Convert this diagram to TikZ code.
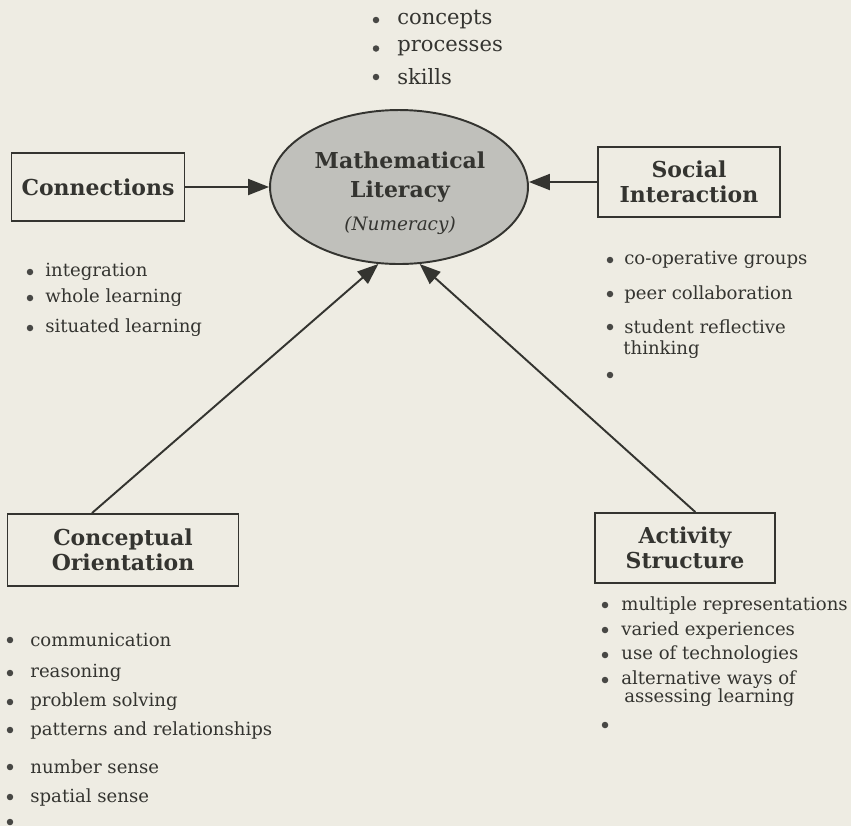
\documentclass[tikz,border=0pt]{standalone}
\usepackage{fontspec}
\setmainfont{DejaVu Serif}
\usepackage{xcolor}
\usetikzlibrary{arrows.meta, shapes.geometric}

\definecolor{paper}{RGB}{238,236,227}
\definecolor{ink}{RGB}{52,52,48}
\definecolor{litfill}{RGB}{192,192,187}

\begin{document}
\begin{tikzpicture}[x=0.02cm, y=-0.02cm,
    box/.style = {draw=ink, line width=1.1pt, align=center, text=ink,
        font=\bfseries\fontsize{12.5}{14}\selectfont},
    item/.style = {anchor=west, inner sep=0pt, text=ink,
        font=\fontsize{10.3}{12}\selectfont},
    topitem/.style = {item, font=\fontsize{12}{14}\selectfont},
    dot/.style = {circle, fill=ink!90, inner sep=0pt, minimum size=0.13cm},
    link/.style = {draw=ink, line width=1.1pt,
        -{Triangle[length=0.42cm, width=0.32cm]}}]

% Page
\fill[paper] (0,0) rectangle (851,826);
\useasboundingbox (0,0) rectangle (851,826);

% Mathematical literacy
\node[ellipse, draw=ink, line width=1.1pt, fill=litfill,
    minimum width=5.16cm, minimum height=3.08cm, inner sep=0pt] (lit) at (399,187) {};
\node[align=center, text=ink, font=\bfseries\fontsize{12.5}{16.5}\selectfont] (littext) at (400,193)
    {Mathematical\\Literacy\\[2pt]{\mdseries\itshape\fontsize{10.5}{14}\selectfont (Numeracy)}};

% The four boxes
\node[box, minimum width=3.46cm, minimum height=1.36cm] (conn) at (98,187) {Connections};
\node[box, minimum width=3.64cm, minimum height=1.40cm] (soc) at (689,182) {Social\\Interaction};
\node[box, minimum width=4.62cm, minimum height=1.44cm] (conc) at (123,550) {Conceptual\\Orientation};
\node[box, minimum width=3.60cm, minimum height=1.40cm] (act) at (685,548) {Activity\\Structure};

% Arrows into the ellipse
\draw[link] (conn.east) -- (lit.west);
\draw[link] (soc.west) -- (soc.west -| lit.east);
\draw[link] (conc.130) -- (lit.255);
\draw[link] (act.74) -- (lit.285);

% Lists
\foreach \t [count=\i] in {concepts, processes, skills} {
    \node[dot] (tb\i) at (376,{20+28.5*(\i-1)}) {};
    \node[topitem] (ti\i) at (397,{20+28.5*(\i-1)}) {\t};
}

\foreach \t/\y [count=\i] in {integration/272, whole learning/298, situated learning/328} {
    \node[dot] (cb\i) at (30,\y) {};
    \node[item] (ci\i) at (45,\y) {\t};
}

\foreach \t/\y [count=\i] in {co-operative groups/260, peer collaboration/294,
        student reflective/327, {}/375} {
    \node[dot] (sb\i) at (610,\y) {};
    \node[item] (si\i) at (624,\y) {\t};
}
\node[item] (si5) at (623,350) {thinking};

\foreach \t/\y [count=\i] in {communication/640, reasoning/673, problem solving/702,
        patterns and relationships/730, number sense/767, spatial sense/797, {}/822} {
    \node[dot] (ob\i) at (10,\y) {};
    \node[item] (oi\i) at (30,\y) {\t};
}

\foreach \t/\y [count=\i] in {multiple representations/605, varied experiences/630,
        use of technologies/655, alternative ways of/680, {}/725} {
    \node[dot] (ab\i) at (605,\y) {};
    \node[item] (ai\i) at (621,\y) {\t};
}
\node[item] (ai6) at (624,698) {assessing learning};
\end{tikzpicture}
\end{document}
